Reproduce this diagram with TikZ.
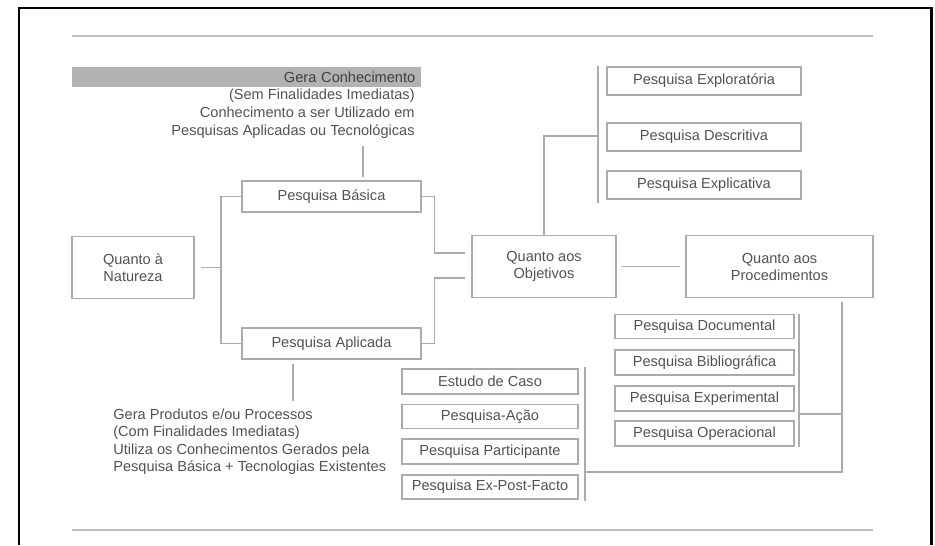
\documentclass[tikz,border=0pt]{standalone}
\usepackage{fontspec}
\setmainfont{Liberation Sans}
\usepackage{tikz}
\usetikzlibrary{calc}

\begin{document}
\begin{tikzpicture}[x=0.02cm, y=-0.02cm]
	\tikzstyle{Box}  = [draw=black!33, line width=0.8pt, text=black!68, inner sep=0pt, align=center, font=\fontsize{8.3}{9.7}\selectfont]
	\tikzstyle{Big}  = [minimum height=1.24cm]
	\tikzstyle{Mid}  = [minimum height=0.62cm]
	\tikzstyle{Link} = [draw=black!33, line width=0.8pt]
	\tikzstyle{Note} = [text=black!68, inner sep=0pt, font=\fontsize{8.3}{10.2}\selectfont]
	\tikzstyle{Rule} = [black!25, line width=1.1pt]

	\useasboundingbox (0,0) rectangle (935,545);
	\draw [line width=1.7pt] (19,545) -- (19,8) -- (931,8) -- (931,545);
	\draw (72,36) -- (873,36) [Rule];
	\draw (72,530) -- (873,530) [Rule];

	\node (nat)  at (133,267.5)   [Box][Big, minimum width=2.44cm] {Quanto à\\Natureza};
	\node (bas)  at (331.5,196.5) [Box][Mid, minimum width=3.58cm] {Pesquisa Básica};
	\node (apl)  at (331.5,343.5) [Box][Mid, minimum width=3.58cm] {Pesquisa Aplicada};
	\node (obj)  at (544,266.5)   [Box][Big, minimum width=2.88cm] {Quanto aos\\Objetivos};
	\node (proc) at (779.5,266.5) [Box][Big, minimum width=3.74cm] {Quanto aos\\Procedimentos};

	\node (expl) at (704,81)  [Box, minimum width=3.88cm, minimum height=0.56cm] {Pesquisa Exploratória};
	\node (desc) at (704,137) [Box, minimum width=3.88cm, minimum height=0.56cm] {Pesquisa Descritiva};
	\node (expc) at (704,185) [Box, minimum width=3.88cm, minimum height=0.56cm] {Pesquisa Explicativa};

	\node (doc)  at (704.5,326.5) [Box, minimum width=3.58cm, minimum height=0.47cm] {Pesquisa Documental};
	\node (bib)  at (704.5,362.5) [Box, minimum width=3.58cm, minimum height=0.5cm] {Pesquisa Bibliográfica};
	\node (expr) at (704.5,398.5) [Box, minimum width=3.58cm, minimum height=0.5cm] {Pesquisa Experimental};
	\node (oper) at (704.5,433.5) [Box, minimum width=3.58cm, minimum height=0.5cm] {Pesquisa Operacional};

	\node (caso) at (490,381.5) [Box, minimum width=3.52cm, minimum height=0.5cm] {Estudo de Caso};
	\node (acao) at (490,416.5) [Box, minimum width=3.52cm, minimum height=0.47cm] {Pesquisa-Ação};
	\node (part) at (490,451.5) [Box, minimum width=3.52cm, minimum height=0.5cm] {Pesquisa Participante};
	\node (expf) at (490,487)   [Box, minimum width=3.52cm, minimum height=0.48cm] {Pesquisa Ex-Post-Facto};

	\node (gcb) at (72,67) [Note][anchor=north west, fill=black!30, text=black!75, text width=6.74cm, inner xsep=0.12cm, inner ysep=0pt, minimum height=0.4cm, align=right] {Gera Conhecimento};
	\node (gct) at (415,89) [anchor=north east, align=right][Note] {(Sem Finalidades Imediatas)\\Conhecimento a ser Utilizado em\\Pesquisas Aplicadas ou Tecnológicas};
	\node (apt) at (113,409) [anchor=north west, align=left][Note, font=\fontsize{8.3}{9.7}\selectfont] {Gera Produtos e/ou Processos\\(Com Finalidades Imediatas)\\Utiliza os Conhecimentos Gerados pela\\Pesquisa Básica + Tecnologias Existentes};

	\coordinate (bq)  at ($(bas.north)+(31.5,-3)$);
	\coordinate (aq)  at ($(apl.south)+(-38.5,4)$);
	\coordinate (jn)  at (221,267.5);
	\coordinate (ob1) at ($(obj.west)+(-6,-13.5)$);
	\coordinate (ob2) at ($(obj.west)+(-6,11.5)$);
	\coordinate (jo)  at (598,136);
	\coordinate (jb)  at (799,414);
	\coordinate (jp)  at (842,414);
	\coordinate (jc)  at (585,472);

	\draw (bq) -- (bq |- gct.south) [Link, shorten >=4pt];
	\draw (aq) -- (aq |- apt.north) [Link, shorten >=4.5pt];

	\draw (nat) -- (jn) [Link, shorten <=3.4pt];
	\draw (bas.west) -| (jn) |- (apl.west) [Link];
	\draw (bas.east) -- ++(13,0) |- (ob1) [Link];
	\draw (apl.east) -- ++(13,0) |- (ob2) [Link];
	\draw (obj) -- (proc) [Link, shorten <=3pt, shorten >=3pt];

	\draw (obj.north) |- (jo) [Link];
	\draw (expl.north -| jo) -- ($(expc.south -| jo)+(0,3)$) [Link];

	\draw (proc.south -| jp) -- (jp |- jc) -- (jc) [Link, shorten <=2pt];
	\draw (jp) -- (jb) [Link];
	\draw (doc.north -| jb) -- (oper.south -| jb) [Link];
	\draw ($(caso.north -| jc)+(0,-1)$) -- ($(expf.south -| jc)+(0,1)$) [Link];
\end{tikzpicture}
\end{document}
